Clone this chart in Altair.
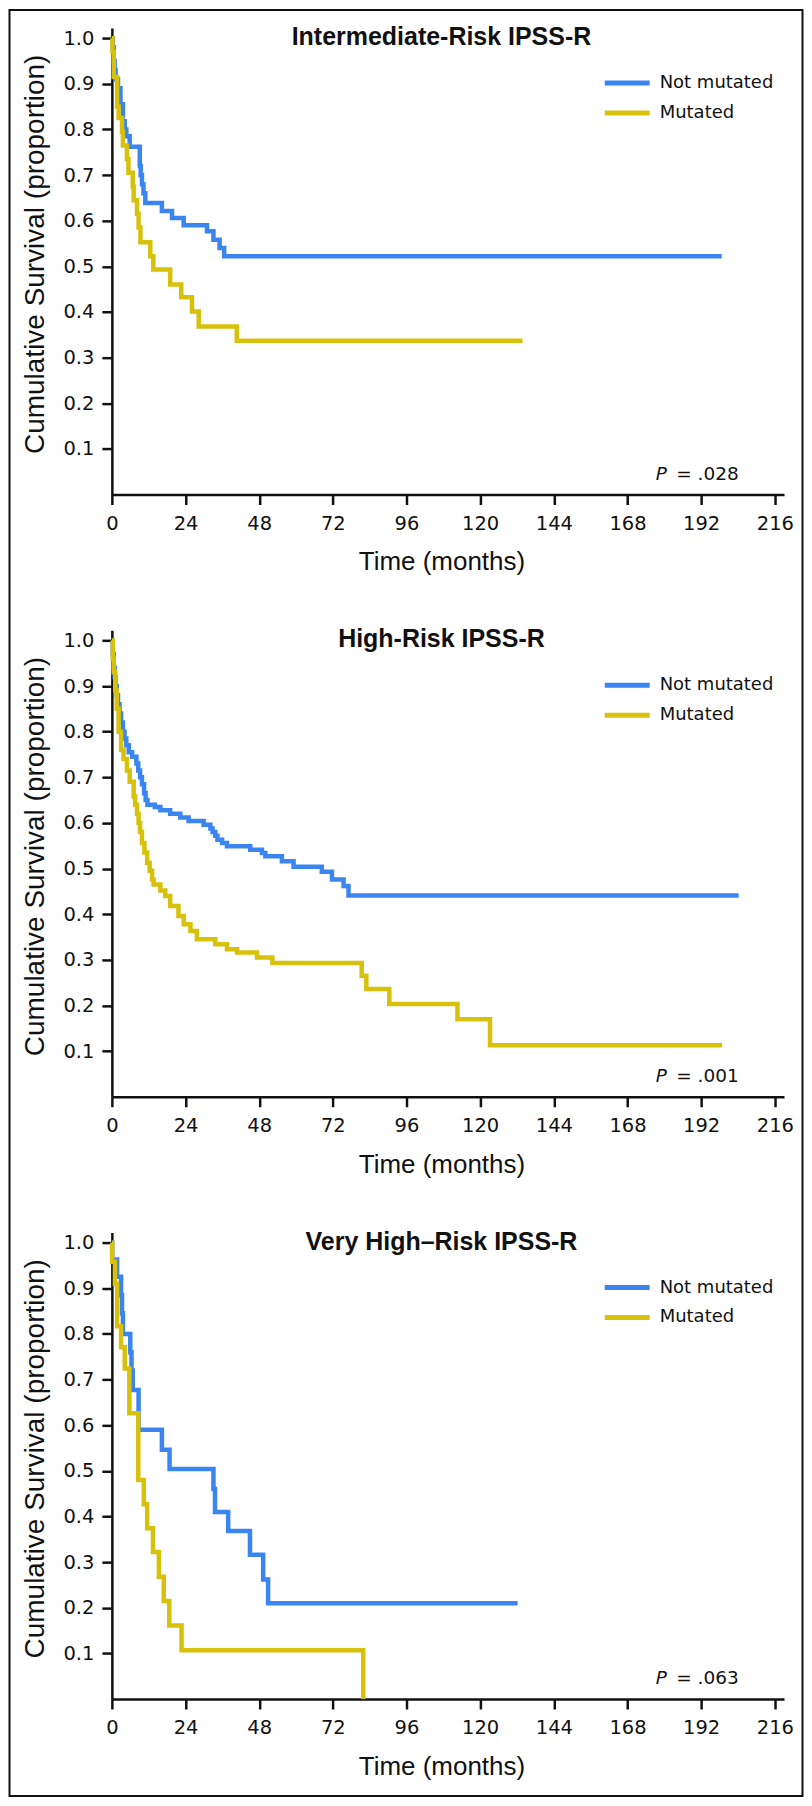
import altair as alt
import pandas as pd

# ---------------- data ----------------
groups = ["Not mutated", "Mutated"]
colors = ["#3b85f1", "#d7c10a"]

x_ticks = [0, 24, 48, 72, 96, 120, 144, 168, 192, 216]
y_ticks = [0.1, 0.2, 0.3, 0.4, 0.5, 0.6, 0.7, 0.8, 0.9, 1.0]

titles = ["Intermediate-Risk IPSS-R", "High-Risk IPSS-R", "Very High\u2013Risk IPSS-R"]
p_values = [".028", ".001", ".063"]

# Panel 1: Intermediate-risk
int_not_t = [0, 0.3, 0.6, 0.9, 1.2, 2.0, 2.8, 3.6, 4.2, 4.7, 5.8, 9.1, 9.4, 9.8, 10.3,
             10.9, 16.3, 19.6, 23.4, 31.0, 33.1, 35.1, 36.6, 198.7]
int_not_s = [1.0, 0.98, 0.95, 0.93, 0.91, 0.89, 0.855, 0.818, 0.80, 0.785, 0.762, 0.72,
             0.70, 0.68, 0.66, 0.639, 0.621, 0.606, 0.59, 0.577, 0.558, 0.540, 0.522, 0.522]
int_mut_t = [0, 0.2, 0.6, 1.7, 2.2, 3.3, 3.6, 4.9, 5.4, 6.8, 7.1, 8.2, 8.7, 9.3, 12.5,
             13.5, 19.0, 22.6, 26.1, 28.3, 40.7, 133.8]
int_mut_s = [1.0, 0.97, 0.915, 0.85, 0.825, 0.795, 0.765, 0.735, 0.705, 0.675, 0.645,
             0.615, 0.585, 0.553, 0.522, 0.493, 0.46, 0.432, 0.401, 0.368, 0.337, 0.337]

# Panel 2: High-risk
high_not_t = [0, 0.3, 0.6, 0.9, 1.2, 1.6, 2.0, 2.5, 3.0, 3.6, 4.1, 4.7, 5.5, 6.6, 8.0,
              8.6, 9.2, 9.8, 10.5, 11.0, 11.6, 14.0, 15.8, 19.0, 22.3, 25.0, 29.9, 32.1,
              32.8, 33.7, 34.4, 35.9, 37.5, 45.1, 48.9, 50.0, 55.4, 59.2, 68.4, 71.7,
              75.5, 77.1, 204.2]
high_not_s = [1.0, 0.97, 0.94, 0.92, 0.90, 0.88, 0.86, 0.84, 0.82, 0.80, 0.785, 0.77,
              0.755, 0.745, 0.73, 0.715, 0.70, 0.685, 0.665, 0.65, 0.64, 0.635, 0.628,
              0.62, 0.612, 0.604, 0.596, 0.588, 0.58, 0.572, 0.563, 0.556, 0.549, 0.541,
              0.534, 0.527, 0.516, 0.504, 0.493, 0.476, 0.462, 0.441, 0.441]
high_mut_t = [0, 0.3, 0.6, 1.1, 1.6, 2.2, 3.0, 3.8, 4.9, 5.8, 7.1, 7.6, 8.2, 8.7, 9.2,
              9.8, 10.6, 11.5, 12.3, 13.1, 13.6, 15.8, 17.4, 19.0, 21.7, 23.4, 25.6,
              27.7, 33.7, 37.5, 40.8, 47.3, 52.3, 81.4, 82.9, 90.4, 112.6, 123.2, 198.8]
high_mut_s = [1.0, 0.96, 0.93, 0.89, 0.85, 0.80, 0.76, 0.74, 0.715, 0.69, 0.658, 0.64,
              0.62, 0.60, 0.58, 0.556, 0.535, 0.513, 0.495, 0.476, 0.465, 0.452, 0.44,
              0.418, 0.396, 0.378, 0.363, 0.345, 0.334, 0.323, 0.316, 0.305, 0.293,
              0.265, 0.236, 0.203, 0.170, 0.113, 0.113]

# Panel 3: Very high-risk
vh_not_t = [0, 0.1, 1.7, 3.0, 3.3, 3.6, 6.0, 6.4, 6.8, 8.7, 16.3, 18.8, 33.1, 33.6,
            37.9, 45.0, 49.3, 50.9, 132.2]
vh_not_s = [1.0, 0.963, 0.925, 0.885, 0.845, 0.80, 0.76, 0.72, 0.677, 0.59, 0.546,
            0.504, 0.46, 0.41, 0.368, 0.316, 0.262, 0.21, 0.21]
vh_mut_t = [0, 0.1, 1.0, 1.7, 3.0, 4.2, 5.7, 8.6, 10.4, 11.5, 13.4, 15.3, 16.9, 18.7,
            22.7, 81.9]
vh_mut_s = [1.0, 0.958, 0.91, 0.817, 0.771, 0.724, 0.626, 0.48, 0.427, 0.374, 0.322,
            0.268, 0.215, 0.161, 0.107, 0.0]

panels = [
    (int_not_t, int_not_s, int_mut_t, int_mut_s),
    (high_not_t, high_not_s, high_mut_t, high_mut_s),
    (vh_not_t, vh_not_s, vh_mut_t, vh_mut_s),
]

# ---------------- layout constants ----------------
W, H = 673, 467
X_MAX = 219
Y_MAX = 1.022


def make_panel(idx):
    nt, ns, mt, ms = panels[idx]
    df = pd.concat([
        pd.DataFrame({"group": groups[0], "time": nt, "surv": ns, "k": 0}),
        pd.DataFrame({"group": groups[1], "time": mt, "surv": ms, "k": 1}),
    ], ignore_index=True)

    lines = alt.Chart(df).mark_line(
        interpolate="step-after", strokeWidth=4.5
    ).encode(
        x=alt.X("time:Q",
                scale=alt.Scale(domain=[0, X_MAX], nice=False, zero=True),
                axis=alt.Axis(values=x_ticks, title="Time (months)", format="d")),
        y=alt.Y("surv:Q",
                scale=alt.Scale(domain=[0, Y_MAX], nice=False),
                axis=alt.Axis(values=y_ticks, format=".1f",
                              title="Cumulative Survival (proportion)")),
        color=alt.Color("group:N", scale=alt.Scale(domain=groups, range=colors),
                        legend=None),
        detail="k:N",
    )

    title = alt.Chart(pd.DataFrame({"t": [titles[idx]]})).mark_text(
        font="Liberation Sans", fontSize=25, fontWeight="bold",
        align="center", baseline="middle", color="#111111"
    ).encode(x=alt.value(330), y=alt.value(9), text="t:N")

    layers = [lines, title]
    for k in range(2):
        lab = pd.DataFrame({"label": [groups[k]]})
        layers.append(
            alt.Chart(lab).mark_rule(strokeWidth=5, color=colors[k]).encode(
                x=alt.value(493.5), x2=alt.value(538.5), y=alt.value(55 + 30 * k))
        )
        layers.append(
            alt.Chart(lab).mark_text(
                font="DejaVu Sans", fontSize=18, align="left", baseline="middle",
                color="#111111"
            ).encode(x=alt.value(548.5), y=alt.value(55 + 30 * k), text="label:N")
        )

    pdf = pd.DataFrame({"p": ["P"], "v": ["= " + p_values[idx]]})
    layers.append(
        alt.Chart(pdf).mark_text(
            font="DejaVu Sans", fontSize=18.5, fontStyle="italic", align="left",
            baseline="middle", color="#111111"
        ).encode(x=alt.value(544.5), y=alt.value(446), text="p:N")
    )
    layers.append(
        alt.Chart(pdf).mark_text(
            font="DejaVu Sans", fontSize=18.5, align="left", baseline="middle",
            color="#111111"
        ).encode(x=alt.value(565), y=alt.value(446), text="v:N")
    )

    if idx == 0:
        # thin frame around the whole figure (decoration)
        layers.append(
            alt.Chart(pd.DataFrame({"f": [0]})).mark_rect(
                filled=False, stroke="#111111", strokeWidth=2
            ).encode(x=alt.value(-102.5), x2=alt.value(691.5),
                     y=alt.value(-18), y2=alt.value(1770))
        )
    return alt.layer(*layers).properties(width=W, height=H)


chart = alt.vconcat(
    make_panel(0), make_panel(1), make_panel(2), spacing=136, bounds="flush"
).properties(
    padding={"left": 0, "top": 0, "right": 0, "bottom": 0},
    background="white",
).configure_view(
    stroke=None
).configure_axis(
    grid=False,
    domainColor="#111111", domainWidth=2.5,
    tickColor="#111111", tickWidth=2.5, tickSize=10,
    labelFont="DejaVu Sans", labelFontSize=19.5, labelColor="#111111",
    labelFlush=False, labelOverlap=False,
    titleFont="Liberation Sans", titleFontWeight="normal", titleColor="#111111",
).configure_axisX(
    labelPadding=10, titleFontSize=26, titlePadding=16, titleX=330,
).configure_axisY(
    labelPadding=8, titleFontSize=28, titlePadding=13, titleY=226,
)

chart.save("out.html", embed_options={"renderer": "svg", "actions": False})
